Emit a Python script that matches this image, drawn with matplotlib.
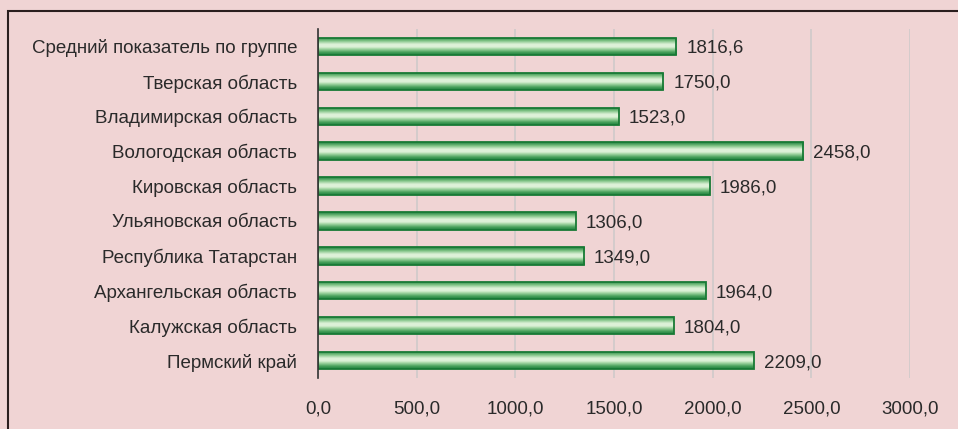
import matplotlib
matplotlib.use("Agg")
import matplotlib.pyplot as plt
import numpy as np
from matplotlib.colors import LinearSegmentedColormap
from matplotlib.patches import Rectangle

categories = ["Средний показатель по группе", "Тверская область", "Владимирская область",
              "Вологодская область", "Кировская область", "Ульяновская область",
              "Республика Татарстан", "Архангельская область", "Калужская область",
              "Пермский край"]
values = [1816.6, 1750.0, 1523.0, 2458.0, 1986.0, 1306.0, 1349.0, 1964.0, 1804.0, 2209.0]
xticks = [0, 500, 1000, 1500, 2000, 2500, 3000]

bg = "#F0D4D4"
txt = "#2A2A2A"
plt.rcParams['font.family'] = ['Liberation Sans', 'DejaVu Sans']

fig = plt.figure(figsize=(9.58, 4.29), dpi=100, facecolor=bg)
ax = fig.add_axes([318/958, 1-378/429, (910-318)/958, (378-29)/429])
ax.set_facecolor(bg)

n = len(categories)
ypos = np.arange(n)[::-1]
cmap = LinearSegmentedColormap.from_list("g", [
    (0.0, "#1F7F3E"), (0.15, "#47A05A"), (0.35, "#A9D9A8"), (0.45, "#DDF1D8"),
    (0.6, "#DDF1D8"), (0.8, "#7DC283"), (1.0, "#1F7F3E")])
grad = np.linspace(0, 1, 64).reshape(-1, 1)

bars = ax.barh(ypos, values, height=0.5, color="none", edgecolor="#187A35", linewidth=1.3, zorder=3)
for b in bars:
    x0, y0, w, h = b.get_x(), b.get_y(), b.get_width(), b.get_height()
    im = ax.imshow(grad, cmap=cmap, aspect="auto", extent=(x0, x0 + w, y0, y0 + h),
                   origin="lower", zorder=2, interpolation="bilinear")
    im.set_clip_path(b)

for y, v in zip(ypos, values):
    ax.text(v + 50, y, f"{v:.1f}".replace(".", ","), va="center_baseline", ha="left",
            fontsize=13.5, color=txt, zorder=4)

ax.set_xlim(0, 3000)
ax.set_ylim(-0.5, n - 0.5)
ax.set_xticks(xticks)
ax.set_xticklabels([f"{t:.1f}".replace(".", ",") for t in xticks], fontsize=13.5, color=txt)
ax.set_yticks(ypos)
ax.set_yticklabels(categories, fontsize=13.5, color=txt)
ax.tick_params(axis="y", length=0, pad=15)
ax.tick_params(axis="x", length=0, pad=16)
ax.grid(axis="x", color="#CFCACA", linewidth=1.2, zorder=0)
ax.set_axisbelow(True)
for s in ["top", "right", "bottom"]:
    ax.spines[s].set_visible(False)
ax.spines["left"].set_color("#333333")
ax.spines["left"].set_linewidth(1.2)
ax.spines["left"].set_zorder(5)

fig.add_artist(Rectangle((8/958, -0.1), 1.2, 1 - 11/429 + 0.1, transform=fig.transFigure,
                         fill=False, edgecolor="#2A1E1E", linewidth=1.5))

fig.savefig("out.png", dpi=100, facecolor=bg)
